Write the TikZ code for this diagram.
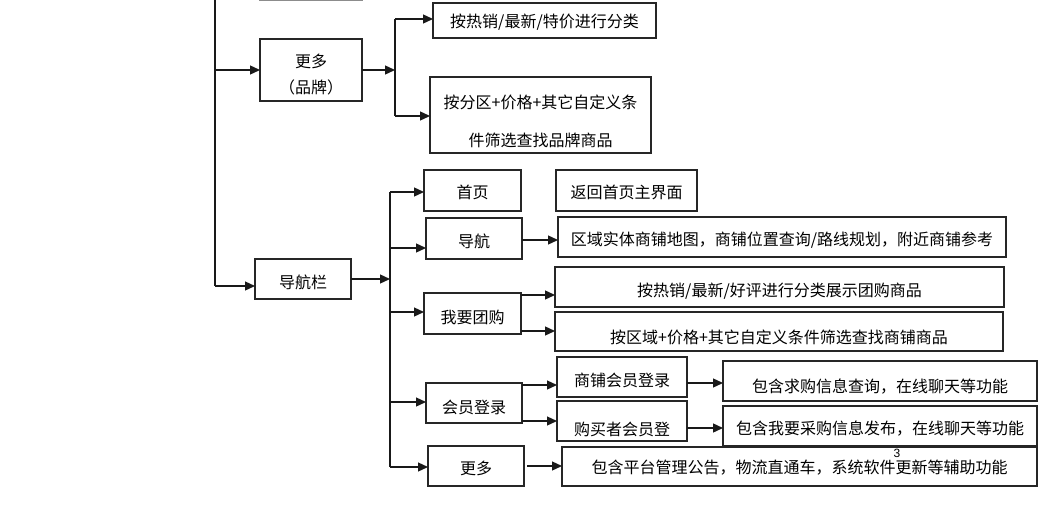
\documentclass[tikz,border=0pt]{standalone}
\usepackage{fontspec}
\setmainfont{Noto Sans CJK SC}
\newfontfamily\numfont{Liberation Sans}
\usetikzlibrary{arrows.meta}
\newcommand{\fz}{\fontsize{16}{20}\selectfont}
\newcommand{\dn}[2]{\raisebox{-#1}[\height][\depth]{#2}}
\newcommand{\twolines}[3]{\raisebox{-#1}[\height][\depth]{\begin{tabular}{@{}c@{}}#2\\#3\end{tabular}}}
\tikzset{
  x=1pt, y=-1pt,
  box/.style={draw=black!85, line width=1.2pt, inner sep=0pt, outer sep=0pt, font=\fz, align=center},
  arr/.style={line width=1.3pt, draw=black!90, -{Triangle[length=10pt,width=9pt]}},
  ln/.style={line width=1.3pt, draw=black!90},
}
\begin{document}
\begin{tikzpicture}
\useasboundingbox[fill=white] (0,0) rectangle (1052,509);
% cut-off box above
\draw[black!45, line width=1.2pt] (259,0.6) -- (363,0.6);

% level 1
\node[box, minimum width=102pt, minimum height=62pt, font=\fontsize{16}{26}\selectfont] (more1) at (311,70) {\twolines{5pt}{更多}{（品牌）}};
\node[box, minimum width=96pt, minimum height=40pt] (nav) at (303,279) {\dn{3pt}{导航栏}};

% level 2 (brand)
\node[box, minimum width=223pt, minimum height=35pt] (hot1) at (544.5,20.5) {\dn{1.5pt}{按热销/最新/特价进行分类}};
\node[box, line width=2pt, minimum width=221pt, minimum height=76pt, font=\fontsize{16}{38}\selectfont] (part1) at (540.5,115) {\twolines{5pt}{按分区+价格+其它自定义条}{件筛选查找品牌商品}};

% level 2 (nav)
\node[box, minimum width=97pt, minimum height=41pt] (home) at (472.5,190.5) {\dn{2pt}{首页}};
\node[box, minimum width=96pt, minimum height=41pt] (guide) at (474,238.5) {\dn{2.5pt}{导航}};
\node[box, minimum width=97pt, minimum height=41pt] (group) at (472.5,313.5) {\dn{3.5pt}{我要团购}};
\node[box, minimum width=96pt, minimum height=40pt] (member) at (474,403) {\dn{4.5pt}{会员登录}};
\node[box, minimum width=96pt, minimum height=40pt] (more2) at (476,466) {\dn{2pt}{更多}};

% level 3
\node[box, minimum width=141pt, minimum height=41pt] (back) at (626.5,190.5) {\dn{2pt}{返回首页主界面}};
\node[box, minimum width=448pt, minimum height=40pt] (area) at (782,237) {\dn{3pt}{区域实体商铺地图，商铺位置查询/路线规划，附近商铺参考}};
\node[box, minimum width=449pt, minimum height=40pt] (ghot) at (779.5,287) {\dn{4pt}{按热销/最新/好评进行分类展示团购商品}};
\node[box, minimum width=448pt, minimum height=39pt] (garea) at (779,331.5) {\dn{6pt}{按区域+价格+其它自定义条件筛选查找商铺商品}};
\node[box, minimum width=130pt, minimum height=40pt] (shopm) at (622,377) {\dn{3pt}{商铺会员登录}};
\node[box, minimum width=130pt, minimum height=40pt] (buyerm) at (622,421) {\dn{8pt}{购买者会员登}};
\node[box, minimum width=314pt, minimum height=40pt] (qg) at (880,381) {\dn{6pt}{包含求购信息查询，在线聊天等功能}};
\node[box, minimum width=314pt, minimum height=40pt] (cg) at (880,426) {\dn{3pt}{包含我要采购信息发布，在线聊天等功能}};
\node[box, minimum width=475pt, minimum height=39pt] (plat) at (799.5,466.5) {\dn{1.5pt}{包含平台管理公告，物流直通车，系统软件更新等辅助功能}};

\node[font=\numfont\fontsize{12}{12}\selectfont, inner sep=0pt] (pg) at (897,453) {3};

% trunk
\coordinate (ttop) at (215,0);
\coordinate (tbot) at (215,286);
\coordinate (t1) at (215,70);
\draw[ln] (ttop) -- (tbot);
\draw[arr] (t1) -- (more1.west);
\draw[arr] (tbot) -- (nav.west |- tbot);

% brand branch
\coordinate (b0) at (395,70);
\coordinate (b1) at (395,19);
\coordinate (b2) at (395,116);
\draw[arr] (more1.east) -- (b0);
\draw[ln] (b1) -- (b2);
\draw[arr] (b1) -- (hot1.west |- b1);
\draw[arr] (b2) -- (part1.west |- b2);

% nav branch
\coordinate (n0) at (390,279);
\coordinate (n1) at (390,192);
\coordinate (n2) at (390,248);
\coordinate (n3) at (390,312);
\coordinate (n4) at (390,402);
\coordinate (n5) at (390,467);
\draw[arr] (nav.east) -- (n0);
\draw[ln] (n1) -- (n5);
\draw[arr] (n1) -- (home.west |- n1);
\draw[arr] (n2) -- (guide.west |- n2);
\draw[arr] (n3) -- (group.west |- n3);
\draw[arr] (n4) -- (member.west |- n4);
\draw[arr] (n5) -- (more2.west |- n5);

% level 3 arrows
\coordinate (g1) at (522,240);
\draw[arr] (g1) -- (area.west |- g1);
\coordinate (p1) at (521,295);
\coordinate (p2) at (521,331);
\draw[arr] (p1) -- (ghot.west |- p1);
\draw[arr] (p2) -- (garea.west |- p2);
\coordinate (m1) at (522,385);
\coordinate (m2) at (522,421);
\draw[arr] (m1) -- (shopm.west |- m1);
\draw[arr] (m2) -- (buyerm.west |- m2);
\coordinate (s1) at (687,383);
\coordinate (s2) at (687,428);
\draw[arr] (s1) -- (qg.west |- s1);
\draw[arr] (s2) -- (cg.west |- s2);
\coordinate (r1) at (527,466);
\draw[arr] (r1) -- (plat.west |- r1);
\end{tikzpicture}
\end{document}
